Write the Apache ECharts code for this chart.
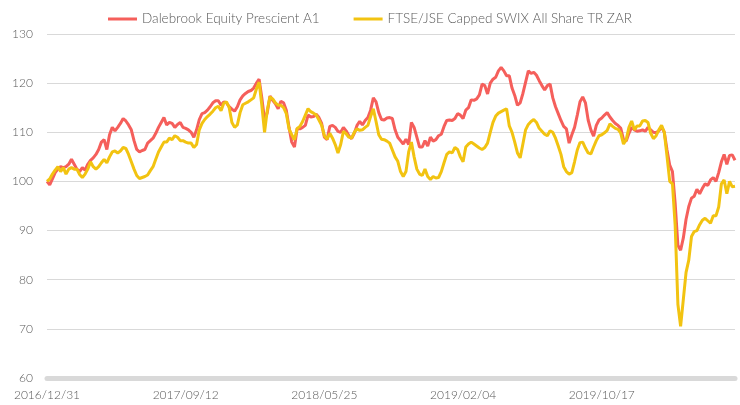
<!DOCTYPE html>
<html>
<head>
<meta charset="utf-8">
<script src="https://cdn.jsdelivr.net/npm/echarts@6/dist/echarts.min.js"></script>
<style>
  html, body { margin: 0; padding: 0; background: #fff; }
  #chart { width: 740px; height: 405px; }
</style>
</head>
<body>
<div id="chart"></div>
<script>
// 5-day steps starting 2016/12/31
const startDate = Date.UTC(2016, 11, 31);
const stepDays = 5;

const seriesNames = ['Dalebrook Equity Prescient A1', 'FTSE/JSE Capped SWIX All Share TR ZAR'];

const dalebrook = [
  100, 99.3, 100.5, 101.8, 102.5, 103, 102.8, 103, 103.5, 104.5,
  103.5, 102.5, 102, 102.8, 102.3, 103.5, 104.3, 104.8, 105.5, 106.5,
  108, 108.5, 106.5, 109.5, 111, 110.3, 111, 111.8, 112.8, 112.3,
  111.5, 110.5, 108.3, 106.5, 106, 106.3, 106.5, 107.8, 108.3, 108.8,
  109.8, 111, 112, 113, 111.5, 112, 111.8, 111, 111.6, 112,
  111, 110.8, 110.5, 110, 109, 110.5, 112.6, 113.8, 114, 114.5,
  115.2, 116, 116.4, 116.4, 115.5, 116.2, 116, 115.2, 114.7, 114.3,
  115.2, 116.6, 117.4, 117.9, 118.3, 118.5, 119, 120, 120.8, 117,
  112.5, 114, 117.4, 116.5, 115.8, 114.8, 116.3, 116, 114.5, 111,
  108, 107, 110.8, 110.7, 111, 111.4, 113.5, 113.1, 113.2, 113.7,
  113, 111.8, 109, 108.5, 111.2, 111.4, 111, 110.2, 110, 111,
  110.3, 109.3, 108.7, 109.8, 111.4, 112.2, 111.5, 112.4, 113, 114.5,
  117, 116.2, 114, 112.6, 112.5, 112.9, 113, 112.8, 110.5, 109,
  108.3, 107.6, 108.6, 107.5, 112, 111, 109, 107, 107, 108.3,
  107.2, 109, 108.2, 108.5, 109.3, 109.6, 111.2, 112.4, 112.5, 112.4,
  112.8, 113.8, 113.5, 112.8, 114.5, 115, 116.6, 116.5, 116.8, 117.6,
  119.8, 119.5, 117.8, 120, 120.8, 121.2, 122.5, 123.2, 122.5, 121.5,
  121.5, 119, 117.5, 115.5, 116, 117.9, 120.2, 122.5, 122, 122.2,
  121.6, 120.5, 119.5, 118.6, 119.5, 119.8, 117, 115.2, 113.8, 112.4,
  111.2, 110.7, 107.8, 109.5, 111, 113.5, 116.2, 117.2, 116, 112.5,
  110.5, 109.2, 111.4, 112.5, 112.9, 113.5, 114, 113.1, 112.4, 111.8,
  111.4, 110.8, 108.5, 108.2, 109.8, 111, 110.5, 110.2, 110.3, 110.5,
  110.2, 111, 110.5, 110, 109.9, 110.3, 111.1, 110, 106.4, 103.3,
  102, 95.5, 87, 86, 88.5, 92.3, 94.9, 96.6, 97, 98.4,
  97.5, 98.6, 99.5, 99.2, 100.3, 100.8, 100, 101.8, 104, 105.5,
  103.5, 105.3, 105.4, 104.3
];

const swix = [
  100, 100.5, 101.5, 102.3, 103, 102, 102.8, 101.5, 102.5, 102.8,
  102.5, 102.5, 101.4, 100.8, 101.5, 102.5, 104, 103, 102.5, 103,
  103.8, 104.5, 103.8, 105, 106, 106.2, 105.8, 106.2, 106.9, 106.7,
  105.5, 104, 102.5, 101.2, 100.6, 100.8, 101, 101.3, 102.2, 103,
  104.5, 106, 107, 108, 108, 108.8, 108.5, 109.3, 109, 108.3,
  108.3, 108, 107.8, 107.8, 106.9, 107.5, 110.5, 111.8, 112.6, 113.2,
  113.7, 114.3, 115, 115.3, 114.4, 115.9, 116.2, 115, 112, 111,
  111.5, 114, 115.6, 115.9, 116.2, 116.6, 117, 118.8, 120.2, 115.5,
  110, 114.5, 117.2, 116.8, 116, 115.5, 115.5, 115, 113.8, 110.7,
  109.5, 108.5, 110.8, 111.2, 112.2, 113.5, 114.8, 114.2, 113.9, 113.5,
  112.5, 111.4, 109.3, 108.6, 109.8, 108.8, 107.5, 105.8, 107.5, 110.2,
  109.7, 109, 108.8, 110, 110.7, 110.4, 110.5, 111, 111.4, 113.2,
  114.8, 112.2, 109.5, 108.6, 108.5, 108.2, 107.8, 106.4, 105, 104.1,
  102, 101, 102, 106, 108, 105, 102.5, 101.5, 101.2, 102.5,
  101, 100.4, 101, 100.7, 100.8, 102, 103.8, 105.5, 106, 105.8,
  106.9, 106.5, 105, 104, 107, 107.6, 108, 107.6, 107.2, 106.8,
  106.5, 106.9, 107.8, 110, 112, 113.3, 113.9, 114.2, 114.5, 114.8,
  111.3, 110, 108, 105.8, 104.8, 107.6, 110.5, 111.6, 112.2, 112.6,
  112, 110.8, 110.2, 109.6, 109.3, 110.3, 110, 108.8, 107.2, 105.5,
  103, 102, 101.5, 101.8, 104, 106.4, 107.9, 108, 106.8, 105.8,
  105.6, 107, 108.3, 109.3, 109.5, 109.9, 110.4, 111.7, 111.2, 110.8,
  110.6, 109.8, 107.6, 108.5, 111, 112.3, 110.5, 111.3, 111.3, 112.3,
  112.4, 112, 109.8, 108.7, 109.3, 110.5, 111.4, 110, 105.1, 100,
  99.5, 91, 75, 70.5, 76, 81.5, 84, 88.8, 89.8, 90,
  91.2, 92.1, 92.5, 92, 91.5, 93, 93, 94.8, 99.5, 100.3,
  97.5, 100, 98.9, 99
];

// 日期类目
const categories = [];
for (let i = 0; i < dalebrook.length; i++) {
  const d = new Date(startDate + i * stepDays * 86400000);
  const mm = String(d.getUTCMonth() + 1).padStart(2, '0');
  const dd = String(d.getUTCDate()).padStart(2, '0');
  categories.push(d.getUTCFullYear() + '/' + mm + '/' + dd);
}

const yTicks = { min: 60, max: 130, interval: 10 };

const myChart = echarts.init(document.getElementById('chart'));
const labelFont = 'Lato, "Open Sans", sans-serif';
const option = {
  animation: false,
  color: ['#F55F5B', '#F2C311'],
  legend: {
    top: 7,
    left: 'center',
    icon: 'rect',
    itemWidth: 29,
    itemHeight: 3,
    itemGap: 34,
    textStyle: { color: '#595959', fontSize: 13.5, fontWeight: 300, fontFamily: labelFont }
  },
  grid: { left: 47, right: 5, top: 34, bottom: 27 },
  xAxis: {
    type: 'category',
    boundaryGap: false,
    data: categories,
    axisLine: { lineStyle: { color: '#D9D9D9', width: 5 } },
    axisTick: { show: false },
    axisLabel: { interval: 50, color: '#595959', fontSize: 12, fontWeight: 300, fontFamily: labelFont, margin: 11 },
    splitLine: { show: false }
  },
  yAxis: {
    type: 'value',
    min: yTicks.min,
    max: yTicks.max,
    interval: yTicks.interval,
    axisLine: { show: false },
    axisTick: { show: false },
    axisLabel: { color: '#595959', fontSize: 12, fontWeight: 300, fontFamily: labelFont, margin: 14 },
    splitLine: { lineStyle: { color: '#D9D9D9', width: 1 } }
  },
  series: [
    {
      name: seriesNames[0],
      type: 'line',
      data: dalebrook,
      symbol: 'none',
      lineStyle: { width: 3 }
    },
    {
      name: seriesNames[1],
      type: 'line',
      data: swix,
      symbol: 'none',
      lineStyle: { width: 3 }
    }
  ]
};
myChart.setOption(option);
</script>
</body>
</html>
